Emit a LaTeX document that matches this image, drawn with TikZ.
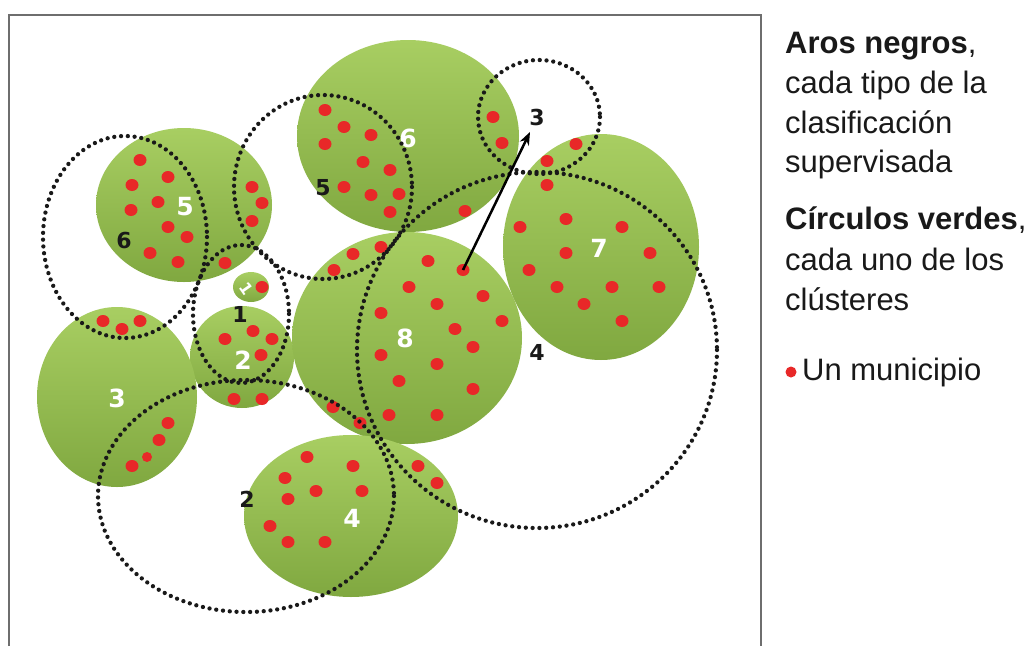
\documentclass[tikz,border=0pt]{standalone}
\usepackage{fontspec}
\setmainfont{Liberation Sans}
\newfontfamily\numfont{DejaVu Sans}
\usetikzlibrary{arrows.meta}
\definecolor{gtop}{RGB}{168,206,98}
\definecolor{gbot}{RGB}{128,168,64}
\definecolor{dotred}{RGB}{232,40,40}
\definecolor{ringc}{RGB}{25,25,25}
\definecolor{framec}{RGB}{110,110,110}
\definecolor{txtc}{RGB}{25,25,25}
\tikzset{
  cluster/.style={top color=gtop, bottom color=gbot, draw=none},
  ring/.style={draw=ringc, line width=4.3pt, dash pattern=on 0pt off 6.8pt, line cap=round},
  wlabel/.style={text=white, font=\numfont\bfseries\fontsize{25}{25}\selectfont, inner sep=0pt},
  blabel/.style={text=txtc, font=\numfont\bfseries\fontsize{22}{22}\selectfont, inner sep=0pt},
  legend/.style={anchor=base west, inner sep=0pt, text=txtc, font=\fontsize{31}{31}\selectfont},
  mun/.style={fill=dotred}
}
\begin{document}
\begin{tikzpicture}[x=1pt,y=-1pt]
\useasboundingbox (0,0) rectangle (1034,646);
\fill[white] (0,0) rectangle (1034,646);
% frame
\draw[framec, line width=1.8pt] (9,646) -- (9,15) -- (761,15) -- (761,646);
% green clusters
\shade[cluster] (408,136) ellipse [x radius=111, y radius=96];
\shade[cluster] (184,205) ellipse [x radius=88, y radius=77];
\shade[cluster] (251,287) ellipse [x radius=18, y radius=15];
\shade[cluster] (242,357) ellipse [x radius=52, y radius=51];
\shade[cluster] (117,397) ellipse [x radius=80, y radius=90];
\shade[cluster] (407,338) ellipse [x radius=115, y radius=106];
\shade[cluster] (601,247) ellipse [x radius=98, y radius=113];
\shade[cluster] (351,516) ellipse [x radius=107, y radius=81];
% municipios
\foreach \p in {(140,160),(168,177),(132,185),(158,202),(131,210),(168,227),(187,237),(150,253),(178,262),(225,263),(252,187),(262,203),(252,221),
  (325,110),(344,127),(371,135),(325,144),(363,162),(390,170),(344,187),(371,195),(399,194),(390,212),(465,211),(493,117),(502,143),
  (262,287),
  (334,270),(353,254),(381,247),(428,261),(463,270),(409,287),(483,296),(437,304),(502,321),(381,313),(455,329),(473,347),(381,355),(437,364),(399,381),(473,389),(389,415),(437,415),(333,407),(360,423),
  (576,144),(547,161),(547,185),(520,227),(566,219),(622,227),(566,253),(650,253),(529,270),(557,287),(612,287),(659,287),(584,304),(622,321),
  (307,457),(353,466),(285,478),(316,491),(362,491),(288,499),(270,526),(288,542),(325,542),(418,466),(437,483),
  (253,331),(225,339),(272,339),(261,355),(234,399),(262,399),
  (103,321),(122,329),(140,321),(168,423),(159,440),(132,466)}
  \fill[mun] \p ellipse [x radius=6.5, y radius=6];
\fill[mun] (147,457) ellipse [x radius=5, y radius=5];
% white cluster labels
\node[wlabel] (c6) at (408,138) {6};
\node[wlabel] (c5) at (185,207) {5};
\node[wlabel, rotate=-55, font=\numfont\bfseries\fontsize{16}{16}\selectfont] (c1) at (246,289) {1};
\node[wlabel] (c2) at (243,360) {2};
\node[wlabel] (c3) at (117,398) {3};
\node[wlabel] (c8) at (405,338) {8};
\node[wlabel] (c7) at (599,248) {7};
\node[wlabel] (c4) at (352,518) {4};
% black rings
\draw[ring] (125,237) ellipse [x radius=82, y radius=101];
\draw[ring] (323,187) ellipse [x radius=89, y radius=92];
\draw[ring] (241,314) ellipse [x radius=48, y radius=69];
\draw[ring] (539,117) ellipse [x radius=61, y radius=57];
\draw[ring] (537,350) ellipse [x radius=180, y radius=178];
\draw[ring] (246,496) ellipse [x radius=148, y radius=116];
% ring labels
\node[blabel] (r6) at (124,240) {6};
\node[blabel] (r5) at (323,188) {5};
\node[blabel] (r1) at (240,314) {1};
\node[blabel] (r3) at (537,117) {3};
\node[blabel] (r4) at (537,352) {4};
\node[blabel] (r2) at (247,499) {2};
% arrow
\coordinate (src) at (463,270);
\coordinate (tip) at (530,132);
\draw[black, line width=2.5pt, -{Stealth[length=13pt,width=10pt]}] (src) -- (tip);
% legend text
\node[legend] (t1) at (785,53) {\textbf{Aros negros},};
\node[legend] (t2) at (785,93) {cada tipo de la};
\node[legend] (t3) at (785,133) {clasificación};
\node[legend] (t4) at (785,172) {supervisada};
\node[legend] (t5) at (785,229) {\textbf{Círculos verdes},};
\node[legend] (t6) at (785,270) {cada uno de los};
\node[legend] (t7) at (785,310) {clústeres};
\fill[mun] (791,372) circle [radius=5.5];
\node[legend] (t8) at (802,380) {Un municipio};
\end{tikzpicture}
\end{document}
